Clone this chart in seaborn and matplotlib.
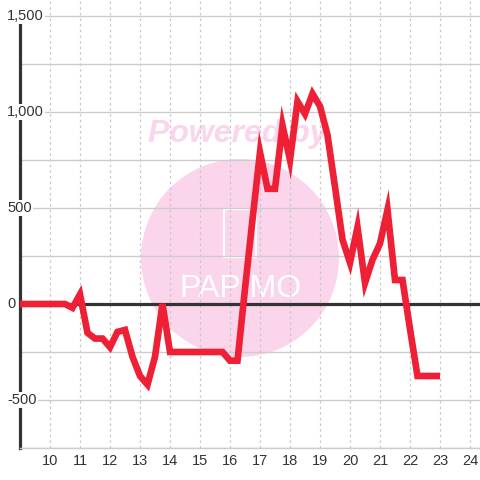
import matplotlib
matplotlib.use("Agg")
import matplotlib.pyplot as plt
import seaborn as sns
import pandas as pd
from matplotlib.patches import Ellipse, FancyBboxPatch

# ---- data ----
hours = [9.0, 9.25, 9.5, 9.75, 10.0, 10.25, 10.5, 10.75,
         11.0, 11.25, 11.5, 11.75, 12.0, 12.25, 12.5, 12.75,
         13.0, 13.25, 13.5, 13.75, 14.0, 14.25, 14.5, 14.75,
         15.0, 15.25, 15.5, 15.75, 16.0, 16.25, 16.5, 16.75,
         17.0, 17.25, 17.5, 17.75, 18.0, 18.25, 18.5, 18.75,
         19.0, 19.25, 19.5, 19.75, 20.0, 20.25, 20.5, 20.75,
         21.0, 21.25, 21.5, 21.75, 22.0, 22.25, 22.5, 22.75, 23.0]
values = [0, 0, 0, 0, 0, 0, 0, -20,
          50, -150, -180, -180, -225, -145, -135, -275,
          -375, -420, -275, 0, -250, -250, -250, -250,
          -250, -250, -250, -250, -295, -295, 80, 440,
          790, 600, 600, 930, 750, 1055, 990, 1095,
          1030, 880, 610, 335, 215, 400, 110, 230,
          315, 490, 125, 125, -130, -375, -375, -375, -375]
x_ticks = [10, 11, 12, 13, 14, 15, 16, 17, 18, 19, 20, 21, 22, 23, 24]
y_grid = [-750, -500, -250, 0, 250, 500, 750, 1000, 1250, 1500]
y_labels = {1500: "1,500", 1000: "1,000", 500: "500", 0: "0", -500: "-500"}

df = pd.DataFrame({"hour": hours, "value": values})

sns.set_theme(style="white")
plt.rcParams["font.family"] = ["Liberation Sans", "DejaVu Sans"]

fig = plt.figure(figsize=(4.8, 4.8), dpi=100)
ax = fig.add_axes([20 / 480, 32 / 480, 460 / 480, 448 / 480])
ax.set_facecolor("white")

XMIN, XMAX = 9, 9 + 460 / 30
YMIN, YMAX = -750, 1500 + 16 / 0.192
ax.set_xlim(XMIN, XMAX)
ax.set_ylim(YMIN, YMAX)

# watermark
ax.add_patch(Ellipse((9 + 220 / 30, 46 / 0.192), 198 / 30, 198 / 0.192,
                     facecolor="#FBD5EB", edgecolor="none", zorder=0.1))
ax.add_patch(FancyBboxPatch((9 + 204 / 30, 47 / 0.192), 32 / 30, 48 / 0.192,
                            boxstyle="round,pad=0,rounding_size=0.1",
                            facecolor="none", edgecolor="white", lw=1.6,
                            zorder=0.2, mutation_aspect=1 / (0.192 * 30)))
ax.text(9 + 220 / 30, (304 - 289) / 0.192, "PAPIMO", color="white",
        fontsize=23, ha="center", va="center", zorder=0.2)
ax.text(9 + 218 / 30, (304 - 134) / 0.192, "Powered by", color="#FBD5EB",
        fontsize=23, fontweight="bold", fontstyle="italic",
        ha="center", va="center", zorder=0.2)

# grid
ax.set_xticks(x_ticks)
ax.set_yticks(y_grid)
ax.set_axisbelow(True)
ax.yaxis.grid(True, color="#cccccc", lw=1.0, ls="-")
ax.xaxis.grid(True, color="#c8c8c8", lw=0.9, ls=(0, (2, 2.5)))
ax.set_yticklabels([])
ax.tick_params(axis="both", length=0)
ax.tick_params(axis="x", pad=4.5, labelsize=10.5, labelcolor="#333333")

for s in ["top", "right"]:
    ax.spines[s].set_visible(False)
ax.spines["bottom"].set_color("#cccccc")
ax.spines["bottom"].set_linewidth(1.0)
ax.spines["left"].set_color("#333333")
ax.spines["left"].set_linewidth(2.3)
ax.spines["left"].set_bounds(YMIN, 1500 - 8 / 0.192)
ax.spines["left"].set_zorder(1.5)

ax.axhline(0, color="#333333", lw=2.3, zorder=1.6)

sns.lineplot(data=df, x="hour", y="value", ax=ax, color="#EE2035",
             lw=4.8, zorder=3, solid_capstyle="butt", solid_joinstyle="miter")
ax.set_xlabel("")
ax.set_ylabel("")

for v, lab in y_labels.items():
    ax.text(9 - 13 / 30, v, lab, ha="left", va="center", fontsize=10.5,
            color="#333333", clip_on=False, zorder=5,
            bbox=dict(facecolor="white", edgecolor="none", pad=1.0))

fig.savefig("out.png", dpi=100, facecolor="white")
